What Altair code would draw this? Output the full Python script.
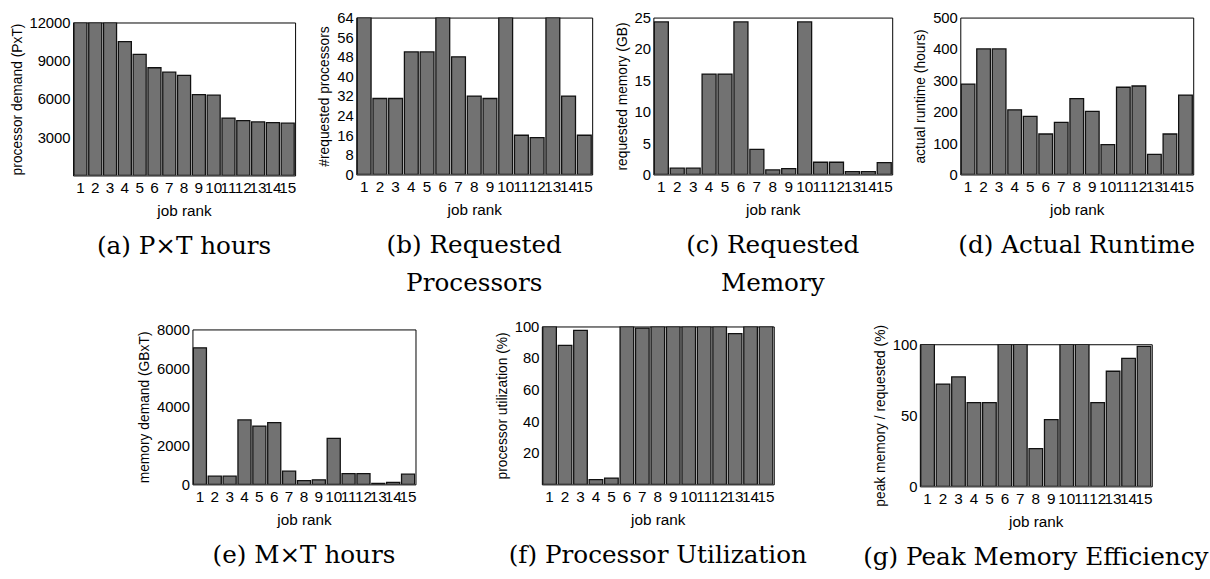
import altair as alt
import pandas as pd

ranks = list(range(1, 16))
pxt_hours = [12000, 12000, 12000, 10500, 9500, 8450, 8100, 7850, 6350, 6300, 4500, 4300, 4200, 4150, 4100]
req_procs = [64, 31, 31, 50, 50, 64, 48, 32, 31, 64, 16, 15, 64, 32, 16]
req_mem = [24.3, 1.0, 1.0, 16, 16, 24.3, 4.0, 0.73, 0.95, 24.3, 1.95, 1.95, 0.45, 0.45, 1.9]
runtime = [288, 400, 400, 206, 185, 129, 166, 242, 201, 95, 278, 282, 64, 129, 253]
mxt_hours = [7050, 425, 425, 3330, 3010, 3190, 680, 200, 235, 2380, 560, 560, 50, 100, 530]
proc_util = [100, 88, 97.5, 3, 4, 100, 99, 100, 100, 100, 100, 100, 95.5, 100, 100]
peak_eff = [100, 72, 77, 59, 59, 100, 100, 26.5, 47, 100, 100, 59, 81, 90, 98.5]

SANS = "Liberation Sans, Arial, Helvetica, sans-serif"
SERIF = "DejaVu Serif, serif"
BAR = "#727272"
EDGE = "#111111"


def spacer(w, h):
    return alt.Chart(pd.DataFrame({"z": [0]})).mark_point(opacity=0).encode(
        x=alt.value(0), y=alt.value(0)
    ).properties(width=w, height=h, view=alt.ViewBackground(stroke="transparent"))


def panel(vals, ytitle, domain, ticks, caption, w, h):
    df = pd.DataFrame({"rank": ranks, "value": vals})
    return alt.Chart(df).mark_bar(fill=BAR, stroke=EDGE, strokeWidth=1.3, clip=True).encode(
        x=alt.X("rank:O", title="job rank",
                scale=alt.Scale(paddingInner=0.12, paddingOuter=0.06),
                axis=alt.Axis(labelAngle=0, labelOverlap=False, ticks=False, domain=False,
                              labelPadding=5, titlePadding=8, labelFontSize=15.5,
                              titleFontSize=15.5)),
        y=alt.Y("value:Q", title=ytitle,
                scale=alt.Scale(domain=domain, nice=False, zero=True),
                axis=alt.Axis(values=ticks, format="d", ticks=False, domain=False, grid=False,
                              labelPadding=3, titlePadding=5, labelFontSize=15,
                              titleFontSize=14)),
    ).properties(
        width=w, height=h,
        title=alt.TitleParams(caption, orient="bottom", font=SERIF, fontSize=25,
                              fontWeight="normal", offset=16, lineHeight=38,
                              anchor="middle", color="black"),
        view=alt.ViewBackground(stroke="black", strokeWidth=1),
    )


a = panel(pxt_hours, "processor demand (PxT)", [0, 12000], [3000, 6000, 9000, 12000],
          "(a) P×T hours", 225, 155)
b = panel(req_procs, "#requested processors", [0, 64], [0, 8, 16, 24, 32, 40, 48, 56, 64],
          ["(b) Requested", "Processors"], 239, 159)
c = panel(req_mem, "requested memory (GB)", [0, 25], [0, 5, 10, 15, 20, 25],
          ["(c) Requested", "Memory"], 242, 159)
d = panel(runtime, "actual runtime (hours)", [0, 500], [0, 100, 200, 300, 400, 500],
          "(d) Actual Runtime", 236, 159)
e = panel(mxt_hours, "memory demand (GBxT)", [0, 8000], [0, 2000, 4000, 6000, 8000],
          "(e) M×T hours", 226, 157)
f = panel(proc_util, "processor utilization (%)", [0, 100], [20, 40, 60, 80, 100],
          "(f) Processor Utilization", 235, 160)
g = panel(peak_eff, "peak memory / requested (%)", [0, 100], [0, 50, 100],
          "(g) Peak Memory Efficiency", 235, 144)

# nested concats occupy no room in a flush layout, so the following gap carries their width
row1 = alt.hconcat(
    alt.vconcat(spacer(225, 5), a, spacing=0, bounds="flush"),
    spacer(225 + 62, 10), b, spacer(62, 10), c, spacer(69, 10), d,
    spacing=0, bounds="flush",
)
row2 = alt.hconcat(
    spacer(121, 10),
    alt.vconcat(spacer(226, 3), e, spacing=0, bounds="flush"),
    spacer(226 + 128, 10), f, spacer(148, 10),
    alt.vconcat(spacer(235, 18), g, spacing=0, bounds="flush"),
    spacing=0, bounds="flush",
)

chart = alt.vconcat(row1, row2, spacing=313, bounds="flush").properties(
    padding={"left": 9, "top": 6, "right": 0, "bottom": 0},
    background="white",
).configure_axis(
    labelFont=SANS, titleFont=SANS, labelColor="black", titleColor="black",
    titleFontWeight="normal",
).configure_concat(spacing=0)

chart.save("out.html", embed_options={"renderer": "svg", "actions": False})
